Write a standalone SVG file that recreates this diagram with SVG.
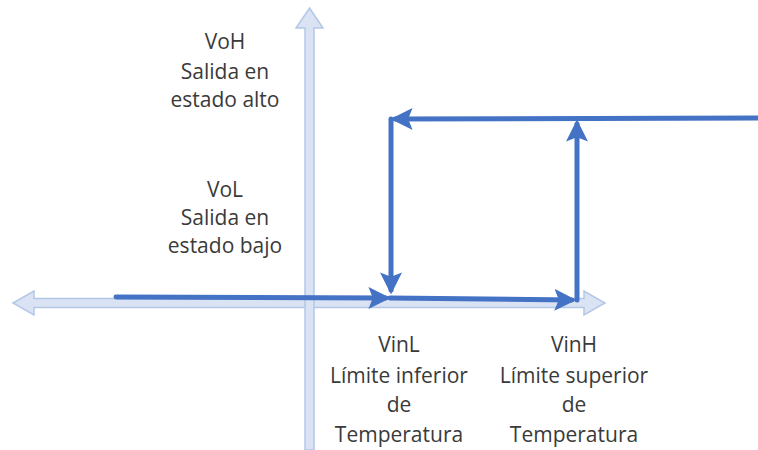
<svg xmlns="http://www.w3.org/2000/svg" width="758" height="450" viewBox="0 0 758 450">
<style>
.axis{fill:#dae3f3;stroke:#b4c7e7;stroke-width:1.5}
.ln{fill:none;stroke:#4472c4;stroke-width:5;stroke-linecap:round}
.lbl{font-family:"Open Sans","Liberation Sans",sans-serif;font-size:21px;fill:#3a3a3a;text-anchor:middle}
</style>
<defs>
<marker id="ah" viewBox="0 0 10 10" refX="8" refY="5" markerWidth="4.4" markerHeight="4.4" orient="auto" markerUnits="strokeWidth">
<path d="M0,0 L10,5 L0,10 L2,5 Z" fill="#4472c4"/>
</marker>
</defs>
<rect width="758" height="450" fill="#ffffff"/>
<g id="axes">
<path class="axis" d="M13,303 L34,291 L34,298.5 L584,298.5 L584,291 L605,303 L584,315 L584,307.5 L34,307.5 L34,315 Z"/>
<path class="axis" d="M309.5,8 L323,28 L314,28 L314,450 L305,450 L305,28 L296,28 Z"/>
</g>
<g id="connectors">
<line class="ln" x1="116" y1="297" x2="386" y2="298" marker-end="url(#ah)"/>
<line class="ln" x1="390" y1="298" x2="572" y2="300" marker-end="url(#ah)"/>
<line class="ln" x1="577" y1="300" x2="577" y2="124" marker-end="url(#ah)"/>
<line class="ln" x1="758" y1="118" x2="395" y2="119" marker-end="url(#ah)"/>
<line class="ln" x1="391" y1="119" x2="391" y2="290" marker-end="url(#ah)"/>
</g>
<g id="voh">
<text class="lbl" x="225" y="49">VoH</text>
<text class="lbl" x="225" y="79">Salida en</text>
<text class="lbl" x="225" y="107">estado alto</text>
</g>
<g id="vol">
<text class="lbl" x="225" y="197">VoL</text>
<text class="lbl" x="225" y="225">Salida en</text>
<text class="lbl" x="225" y="253">estado bajo</text>
</g>
<g id="vinl">
<text class="lbl" x="399" y="352">VinL</text>
<text class="lbl" x="399" y="383">Límite inferior</text>
<text class="lbl" x="399" y="412">de</text>
<text class="lbl" x="399" y="442">Temperatura</text>
</g>
<g id="vinh">
<text class="lbl" x="574" y="352">VinH</text>
<text class="lbl" x="574" y="383">Límite superior</text>
<text class="lbl" x="574" y="412">de</text>
<text class="lbl" x="574" y="442">Temperatura</text>
</g>
</svg>
